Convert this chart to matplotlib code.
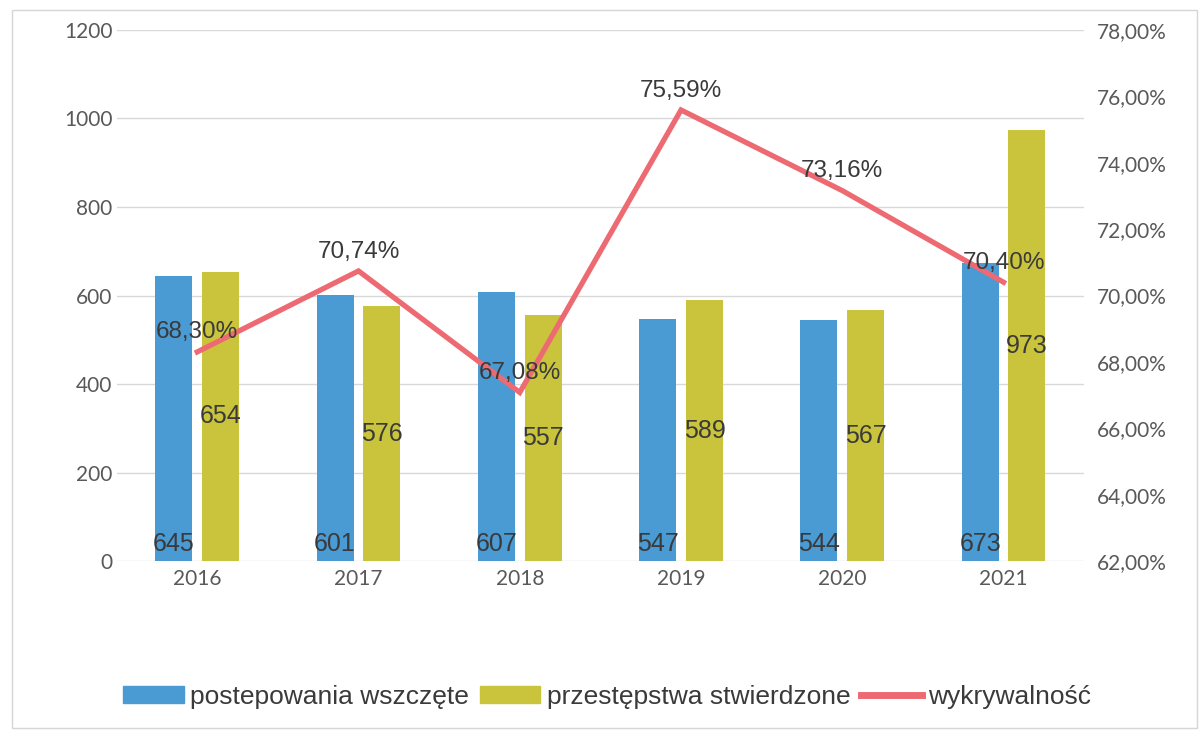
import matplotlib
matplotlib.use("Agg")
import matplotlib.pyplot as plt
from matplotlib.lines import Line2D
from matplotlib.patches import Rectangle, Patch
import numpy as np

years = ["2016", "2017", "2018", "2019", "2020", "2021"]
postepowania = [645, 601, 607, 547, 544, 673]
przestepstwa = [654, 576, 557, 589, 567, 973]
wykrywalnosc = [68.30, 70.74, 67.08, 75.59, 73.16, 70.40]
left_ticks = [0, 200, 400, 600, 800, 1000, 1200]
right_ticks = [62, 64, 66, 68, 70, 72, 74, 76, 78]

BLUE = "#4A9AD4"
GREEN = "#C9C43C"
RED = "#EE6A72"
TICK = "#595959"
LABEL = "#3A3A3A"

fig = plt.figure(figsize=(12.02, 7.33), dpi=100)
ax = fig.add_axes([0.097, 0.2346, 0.805, 0.7245])
ax2 = ax.twinx()

x = np.arange(len(years))
w = 0.23
off = 0.145
ax.bar(x - off, postepowania, width=w, color=BLUE, zorder=2)
ax.bar(x + off, przestepstwa, width=w, color=GREEN, zorder=2)

ax.set_ylim(0, 1200)
ax.set_xlim(-0.5, len(years) - 0.5)
ax.set_yticks(left_ticks)
ax.set_xticks(x)
ax.set_xticklabels(years)
ax.grid(axis="y", color="#D9D9D9", lw=1, zorder=0)
ax.set_axisbelow(True)
for s in ax.spines.values():
    s.set_visible(False)
for s in ax2.spines.values():
    s.set_visible(False)
ax.tick_params(axis="both", length=0, labelsize=15, labelcolor=TICK)
ax.tick_params(axis="y", pad=3)
ax.tick_params(axis="x", pad=6)
for t in ax.get_xticklabels() + ax.get_yticklabels():
    t.set_fontfamily("Lato")

ax2.set_ylim(62, 78)
ax2.set_yticks(right_ticks)
ax2.set_yticklabels([f"{v:.2f}%".replace(".", ",") for v in right_ticks])
ax2.tick_params(axis="y", length=0, labelsize=15, labelcolor=TICK, pad=9)
for t in ax2.get_yticklabels():
    t.set_fontfamily("Lato")

ax2.plot(x, wykrywalnosc, color=RED, lw=3.8, solid_joinstyle="miter", zorder=3)

# data labels
for xi, v in zip(x, postepowania):
    ax.text(xi - off, 12, str(v), ha="center", va="bottom", fontsize=18,
            family="Liberation Sans", color=LABEL, zorder=4)
for xi, v in zip(x, przestepstwa):
    ax.text(xi + off, v / 2, str(v), ha="center", va="center", fontsize=18,
            family="Liberation Sans", color=LABEL, zorder=4)
for xi, v in zip(x, wykrywalnosc):
    ax2.annotate(f"{v:.2f}%".replace(".", ","), (xi, v), xytext=(0, 14),
                 textcoords="offset points", ha="center", va="center",
                 fontsize=17.5, family="Liberation Sans", color=LABEL, zorder=5)

handles = [Patch(color=BLUE), Patch(color=GREEN),
           Line2D([0], [0], color=RED, lw=5)]
labels = ["postepowania wszczęte", "przestępstwa stwierdzone", "wykrywalność"]
leg = fig.legend(handles, labels, loc="center", bbox_to_anchor=(0.505, 0.049),
                 ncol=3, frameon=False, handlelength=2.3, handleheight=0.6,
                 handletextpad=0.25, columnspacing=0.4,
                 prop={"family": "Liberation Sans", "size": 19})
for t in leg.get_texts():
    t.set_color(LABEL)

fig.patches.append(Rectangle((0.01, 0.007), 0.986, 0.98, transform=fig.transFigure,
                             fill=False, ec="#D6D6D6", lw=1))

fig.savefig("out.png", dpi=100)
